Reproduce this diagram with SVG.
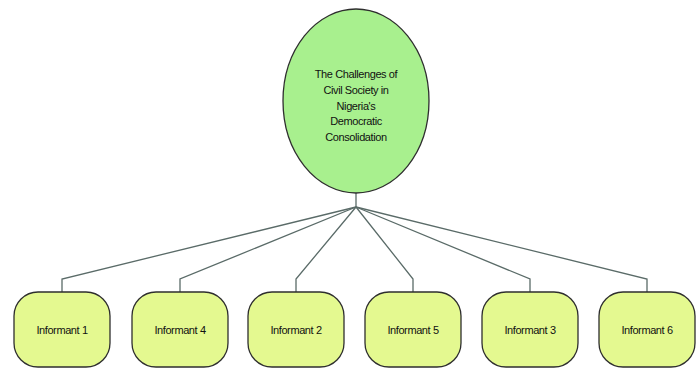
<svg xmlns="http://www.w3.org/2000/svg" width="700" height="369" viewBox="0 0 700 369">
<style>
.root{fill:#a8f08e;stroke:#2e2e2e;stroke-width:1.3}
.box{fill:#e4f990;stroke:#2e2e2e;stroke-width:1.3}
.lbl{font-family:"Liberation Sans",Arial,sans-serif;font-size:11px;fill:#111;text-anchor:middle;letter-spacing:-0.4px}
.conn{fill:none;stroke:#5a6b68;stroke-width:1.3}
</style>
<rect width="700" height="369" fill="#ffffff"/>
<g id="connectors" class="conn">
<path d="M356,193 V207"/>
<path d="M356,207 L62,279 V292"/>
<path d="M356,207 L180,279 V292"/>
<path d="M356,207 L296,279 V292"/>
<path d="M356,207 L413,279 V292"/>
<path d="M356,207 L530,279 V292"/>
<path d="M356,207 L647,279 V292"/>
</g>
<g id="root">
<ellipse class="root" cx="356" cy="101" rx="73" ry="92"/>
<text class="lbl"><tspan x="356" y="78">The Challenges of</tspan><tspan x="356" y="94">Civil Society in</tspan><tspan x="356" y="110">Nigeria's</tspan><tspan x="356" y="125">Democratic</tspan><tspan x="356" y="141">Consolidation</tspan></text>
</g>
<g id="informant1"><rect class="box" x="14" y="292" width="96" height="75" rx="24"/><text class="lbl" x="62" y="334">Informant 1</text></g>
<g id="informant4"><rect class="box" x="132" y="292" width="96" height="75" rx="24"/><text class="lbl" x="180" y="334">Informant 4</text></g>
<g id="informant2"><rect class="box" x="248" y="292" width="96" height="75" rx="24"/><text class="lbl" x="296" y="334">Informant 2</text></g>
<g id="informant5"><rect class="box" x="365" y="292" width="96" height="75" rx="24"/><text class="lbl" x="413" y="334">Informant 5</text></g>
<g id="informant3"><rect class="box" x="482" y="292" width="96" height="75" rx="24"/><text class="lbl" x="530" y="334">Informant 3</text></g>
<g id="informant6"><rect class="box" x="599" y="292" width="96" height="75" rx="24"/><text class="lbl" x="647" y="334">Informant 6</text></g>
</svg>
